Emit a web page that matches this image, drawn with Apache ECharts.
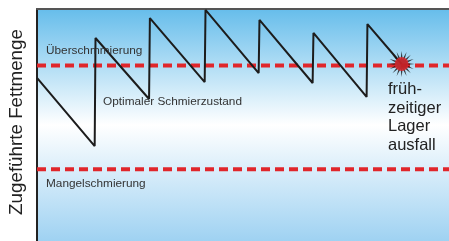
<!DOCTYPE html>
<html lang="de">
<head>
<meta charset="UTF-8" />
<title>Schmierzustand</title>
<script src="https://cdn.jsdelivr.net/npm/echarts@6/dist/echarts.min.js"></script>
<style>
  body{margin:0;padding:0;background:#fff;}
  #chart{width:449px;height:241px;}
</style>
</head>
<body>
<div id="chart"></div>
<script>
// Zeit (x) und Fettmenge (y), relative Einheiten 0..100
var sawX = [0, 14.0, 14.2, 27.2, 27.4, 40.7, 40.9, 53.8, 54.0, 66.9, 67.1, 80.0, 80.2, 88.5];
var sawY = [70.3, 40.9, 87.5, 61.2, 96.1, 68.5, 99.6, 72.4, 95.3, 68.1, 89.7, 62.1, 93.5, 76.3];
var upperLimit = 75.7;   // Grenze Überschmierung
var lowerLimit = 30.9;   // Grenze Mangelschmierung
var failure = [88.5, 76.3];
var labels = ['Überschmmierung', 'Optimaler Schmierzustand', 'Mangelschmierung', 'früh-\nzeitiger\nLager\nausfall'];
var yTitle = 'Zugeführte Fettmenge';

var saw = sawX.map(function (x, i) { return [x, sawY[i]]; });

// Stern fuer den Ausfall
function starPath(n, rIn) {
  var p = [];
  for (var i = 0; i < n * 2; i++) {
    var r = i % 2 ? rIn : 1;
    var a = Math.PI * i / n;
    p.push((i ? 'L' : 'M') + (Math.cos(a) * r).toFixed(3) + ' ' + (Math.sin(a) * r).toFixed(3));
  }
  return 'path://' + p.join(' ') + ' Z';
}

var font = 'Arial, "Liberation Sans", sans-serif';
var chart = echarts.init(document.getElementById('chart'));
var option = {
  animation: false,
  grid: {
    left: 37, top: 9, right: 0, bottom: 0,
    outerBoundsMode: 'none',
    show: true, borderWidth: 0,
    backgroundColor: {
      type: 'linear', x: 0, y: 0, x2: 0, y2: 1,
      colorStops: [
        {offset: 0, color: '#66bdeb'},
        {offset: 0.5, color: '#ffffff'},
        {offset: 1, color: '#9fd2f2'}
      ]
    }
  },
  xAxis: {
    type: 'value', min: 0, max: 100, position: 'top',
    axisLine: {show: true, onZero: false, lineStyle: {color: '#555', width: 2}},
    axisTick: {show: false}, axisLabel: {show: false}, splitLine: {show: false}
  },
  yAxis: {
    type: 'value', min: 0, max: 100,
    name: yTitle, nameLocation: 'middle', nameGap: 11, nameRotate: 90,
    nameTextStyle: {fontFamily: font, fontSize: 18.8, color: '#222', padding: [0, 0, 0, 6]},
    axisLine: {show: true, onZero: false, lineStyle: {color: '#222', width: 2}},
    axisTick: {show: false}, axisLabel: {show: false}, splitLine: {show: false}
  },
  series: [
    {
      type: 'line', data: [[0, upperLimit], [100, upperLimit]], symbol: 'none', z: 2,
      lineStyle: {color: '#e0262b', width: 4, type: [9, 5]}
    },
    {
      type: 'line', data: [[0, lowerLimit], [100, lowerLimit]], symbol: 'none', z: 2,
      lineStyle: {color: '#e0262b', width: 4, type: [9, 5]}
    },
    {
      type: 'line', data: saw, symbol: 'none', z: 3,
      lineStyle: {color: '#1c1c1c', width: 2}
    },
    {
      type: 'scatter', data: [failure], symbol: starPath(16, 0.4), symbolSize: 26, z: 4,
      itemStyle: {color: '#111'}
    },
    {
      type: 'scatter', data: [failure], symbol: 'circle', symbolSize: 14, z: 5,
      itemStyle: {color: '#e3262b'}
    }
  ],
  graphic: [
    {type: 'text', x: 46, y: 51, z: 10, style: {text: labels[0], font: '11.8px ' + font, fill: '#333', verticalAlign: 'middle'}},
    {type: 'text', x: 103, y: 102, z: 10, style: {text: labels[1], font: '11.8px ' + font, fill: '#333', verticalAlign: 'middle'}},
    {type: 'text', x: 46, y: 184, z: 10, style: {text: labels[2], font: '11.8px ' + font, fill: '#333', verticalAlign: 'middle'}},
    {type: 'text', x: 388, y: 80.5, z: 10, style: {text: labels[3], font: '16.5px ' + font, fill: '#222', verticalAlign: 'top', lineHeight: 18.5}}
  ]
};
chart.setOption(option);
</script>
</body>
</html>
